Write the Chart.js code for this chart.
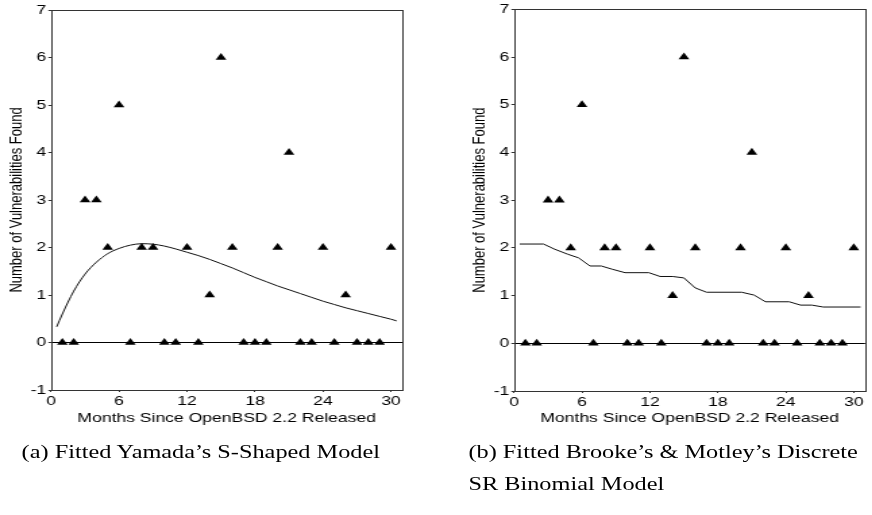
<!DOCTYPE html>
<html><head><meta charset="utf-8">
<script src="https://cdn.jsdelivr.net/npm/chart.js@4"></script>
<style>
html,body{margin:0;padding:0;background:#fff;width:872px;height:515px;overflow:hidden}
#wrap{position:absolute;left:0;top:0;width:646px;height:515px;transform:scaleX(1.35);transform-origin:0 0}
.cv{position:absolute;top:0}
.cap{position:absolute;font-family:"Liberation Serif","Times New Roman",serif;font-size:18px;line-height:32px;color:#000;white-space:nowrap}
</style></head><body>
<div id="wrap">
<div class="cv" style="left:0;width:323px;height:440px"><canvas id="c1"></canvas></div>
<div class="cv" style="left:323px;width:323px;height:440px"><canvas id="c2"></canvas></div>
<div class="cap" style="left:16px;top:436px">(a) Fitted Yamada’s S-Shaped Model</div>
<div class="cap" style="left:347px;top:436px">(b) Fitted Brooke’s &amp; Motley’s Discrete<br>SR Binomial Model</div>
</div>
<script>
// ---- data ----
const months = [1,2,3,4,5,6,7,8,9,10,11,12,13,14,15,16,17,18,19,20,21,22,23,24,25,26,27,28,29,30];
const vulnCounts = [0,0,3,3,2,5,0,2,2,0,0,2,0,1,6,2,0,0,0,2,4,0,0,2,0,1,0,0,0,2];
const yamadaT = [0.5,1,2,3,4,5,6,7,8,9,10,11,12,13,14,15,16,17,18,19,20,21,22,23,24,25,26,27,28,29,30,30.5];
const yamadaV = [0.33,0.60,1.08,1.44,1.69,1.87,1.98,2.05,2.08,2.07,2.03,1.97,1.90,1.83,1.75,1.66,1.57,1.47,1.37,1.28,1.19,1.11,1.03,0.95,0.87,0.80,0.73,0.67,0.61,0.55,0.49,0.455];
const bmT = [0.5,2.6,3.6,4.7,5.7,6.7,7.7,8.7,9.8,11.9,12.9,14.0,15.0,16.0,17.0,20.1,21.2,22.2,24.3,25.3,26.3,27.3,30.6];
const bmV = [2.08,2.08,1.97,1.87,1.79,1.62,1.62,1.55,1.48,1.48,1.40,1.40,1.37,1.16,1.07,1.07,1.01,0.87,0.87,0.80,0.80,0.76,0.76];
const xTicks = [0,6,12,18,24,30];
const yTicks = [-1,0,1,2,3,4,5,6,7];
const xTitle = 'Months Since OpenBSD 2.2 Released';
const yTitle = 'Number of Vulnerabilities Found';

const frame = {
  id:'frame',
  afterDatasetsDraw(chart){
    const {ctx, chartArea:a} = chart;
    ctx.save();
    ctx.strokeStyle = '#333';
    ctx.lineWidth = 1;
    ctx.strokeRect(Math.round(a.left)+0.5, Math.round(a.top)+0.5, Math.round(a.right-a.left), Math.round(a.bottom-a.top));
    ctx.restore();
  }
};

function makeChart(id, lineT, lineV, pad, xH, interp){
  const tickFont = {family:'"Liberation Sans", Arial, sans-serif', size:13};
  const titleFont = {family:'"Liberation Sans", Arial, sans-serif', size:13};
  return new Chart(document.getElementById(id), {
    data:{
      datasets:[
        {type:'scatter', data: months.map((m,i)=>({x:m, y:vulnCounts[i]})),
         pointStyle:'triangle', pointRadius:4.6, pointHoverRadius:4.6,
         backgroundColor:'#000', borderColor:'#000', borderWidth:0, order:1},
        {type:'line', data: lineT.map((t,i)=>({x:t, y:lineV[i]})),
         borderColor:'#111', borderWidth:1, pointRadius:0, fill:false,
         cubicInterpolationMode: interp ? 'monotone' : 'default', tension:0, order:2}
      ]
    },
    options:{
      responsive:true, maintainAspectRatio:false, animation:false,
      layout:{padding:pad},
      plugins:{legend:{display:false}, tooltip:{enabled:false}},
      scales:{
        x:{type:'linear', min:0, max:31,
           afterBuildTicks:s=>{s.ticks = xTicks.map(v=>({value:v}));},
           afterFit:s=>{s.height = xH;},
           grid:{drawOnChartArea:false, tickLength:2, tickColor:'#333'},
           border:{display:false},
           ticks:{font:tickFont, color:'#000', padding:1.5, maxRotation:0, autoSkip:false},
           title:{display:true, text:xTitle, font:titleFont, color:'#000', padding:{top:0,bottom:14}}},
        y:{type:'linear', min:-1, max:7,
           afterBuildTicks:s=>{s.ticks = yTicks.map(v=>({value:v}));},
           afterFit:s=>{s.width = 37.8;},
           grid:{color:c=> (c.tick && c.tick.value===0) ? '#000' : 'rgba(0,0,0,0)', tickLength:2, tickColor:'#333', lineWidth:1},
           border:{display:false},
           ticks:{font:tickFont, color:'#000', padding:1.5, autoSkip:false},
           title:{display:true, text:yTitle, font:titleFont, color:'#000', padding:{top:4.8,bottom:0}}}
      }
    },
    plugins:[frame]
  });
}
makeChart('c1', yamadaT, yamadaV, {left:0, right:25, top:10, bottom:0}, 50, true);
makeChart('c2', bmT, bmV, {left:20, right:5.2, top:6.5, bottom:0}, 49, false);
</script>
</body></html>
